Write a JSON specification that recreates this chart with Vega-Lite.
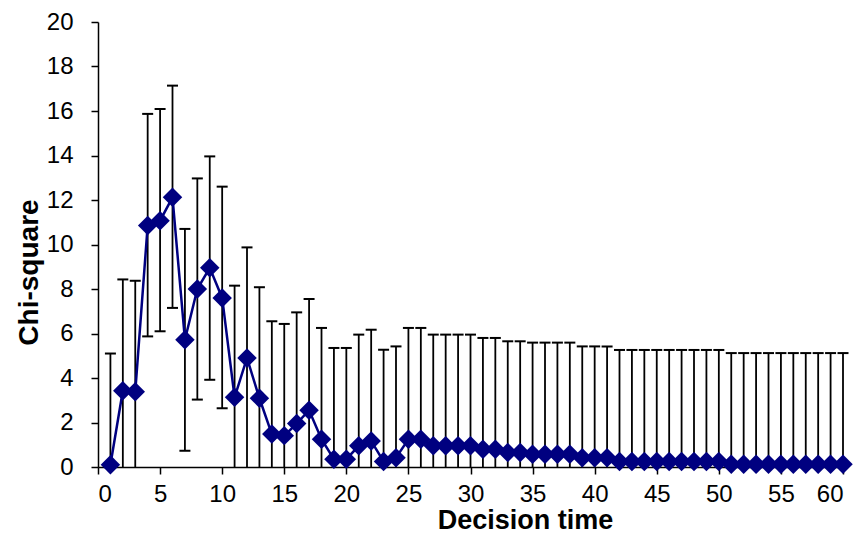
{
  "$schema": "https://vega.github.io/schema/vega-lite/v6.json",
  "width": 745,
  "height": 445,
  "autosize": {"type": "none"},
  "padding": {"left": 98, "top": 22, "right": 19, "bottom": 69},
  "background": "white",
  "config": {
    "font": "Liberation Sans",
    "view": {"stroke": null},
    "axis": {
      "grid": false,
      "domainColor": "black",
      "domainWidth": 1.5,
      "tickColor": "black",
      "tickWidth": 1.5,
      "tickSize": 7,
      "labelFontSize": 24,
      "labelColor": "black",
      "titleFontSize": 28,
      "titleFontWeight": "bold",
      "titleColor": "black"
    },
    "axisX": {
      "labelPadding": 8,
      "titleX": 427,
      "titleY": 61,
      "titleFontSize": 27,
      "titleAlign": "center",
      "titleBaseline": "alphabetic"
    },
    "axisY": {
      "labelPadding": 18,
      "titleX": -61,
      "titleY": 250,
      "titleAngle": -90,
      "titleAlign": "center",
      "titleBaseline": "alphabetic"
    }
  },
  "data": {
    "values": [
      {"t": 1, "y": 0.1, "lo": 0, "hi": 5.1},
      {"t": 2, "y": 3.43, "lo": 0, "hi": 8.43},
      {"t": 3, "y": 3.38, "lo": 0, "hi": 8.37},
      {"t": 4, "y": 10.85, "lo": 5.87, "hi": 15.87},
      {"t": 5, "y": 11.07, "lo": 6.1, "hi": 16.09},
      {"t": 6, "y": 12.12, "lo": 7.15, "hi": 17.14},
      {"t": 7, "y": 5.72, "lo": 0.73, "hi": 10.7},
      {"t": 8, "y": 8.0, "lo": 3.03, "hi": 12.97},
      {"t": 9, "y": 8.95, "lo": 3.92, "hi": 13.96},
      {"t": 10, "y": 7.6, "lo": 2.64, "hi": 12.6},
      {"t": 11, "y": 3.13, "lo": 0, "hi": 8.15},
      {"t": 12, "y": 4.9, "lo": 0, "hi": 9.87},
      {"t": 13, "y": 3.09, "lo": 0, "hi": 8.08},
      {"t": 14, "y": 1.48, "lo": 0, "hi": 6.55},
      {"t": 15, "y": 1.41, "lo": 0, "hi": 6.43},
      {"t": 16, "y": 1.95, "lo": 0, "hi": 6.95},
      {"t": 17, "y": 2.55, "lo": 0, "hi": 7.55},
      {"t": 18, "y": 1.25, "lo": 0, "hi": 6.25},
      {"t": 19, "y": 0.35, "lo": 0, "hi": 5.35},
      {"t": 20, "y": 0.35, "lo": 0, "hi": 5.35},
      {"t": 21, "y": 0.95, "lo": 0, "hi": 5.95},
      {"t": 22, "y": 1.17, "lo": 0, "hi": 6.17},
      {"t": 23, "y": 0.25, "lo": 0, "hi": 5.27},
      {"t": 24, "y": 0.42, "lo": 0, "hi": 5.42},
      {"t": 25, "y": 1.25, "lo": 0, "hi": 6.25},
      {"t": 26, "y": 1.25, "lo": 0, "hi": 6.25},
      {"t": 27, "y": 0.95, "lo": 0, "hi": 5.95},
      {"t": 28, "y": 0.95, "lo": 0, "hi": 5.95},
      {"t": 29, "y": 0.95, "lo": 0, "hi": 5.95},
      {"t": 30, "y": 0.95, "lo": 0, "hi": 5.95},
      {"t": 31, "y": 0.8, "lo": 0, "hi": 5.8},
      {"t": 32, "y": 0.8, "lo": 0, "hi": 5.8},
      {"t": 33, "y": 0.65, "lo": 0, "hi": 5.65},
      {"t": 34, "y": 0.65, "lo": 0, "hi": 5.65},
      {"t": 35, "y": 0.57, "lo": 0, "hi": 5.59},
      {"t": 36, "y": 0.57, "lo": 0, "hi": 5.59},
      {"t": 37, "y": 0.57, "lo": 0, "hi": 5.59},
      {"t": 38, "y": 0.57, "lo": 0, "hi": 5.59},
      {"t": 39, "y": 0.42, "lo": 0, "hi": 5.42},
      {"t": 40, "y": 0.42, "lo": 0, "hi": 5.42},
      {"t": 41, "y": 0.42, "lo": 0, "hi": 5.42},
      {"t": 42, "y": 0.25, "lo": 0, "hi": 5.26},
      {"t": 43, "y": 0.25, "lo": 0, "hi": 5.26},
      {"t": 44, "y": 0.25, "lo": 0, "hi": 5.26},
      {"t": 45, "y": 0.25, "lo": 0, "hi": 5.26},
      {"t": 46, "y": 0.25, "lo": 0, "hi": 5.26},
      {"t": 47, "y": 0.25, "lo": 0, "hi": 5.26},
      {"t": 48, "y": 0.25, "lo": 0, "hi": 5.26},
      {"t": 49, "y": 0.25, "lo": 0, "hi": 5.26},
      {"t": 50, "y": 0.25, "lo": 0, "hi": 5.26},
      {"t": 51, "y": 0.12, "lo": 0, "hi": 5.12},
      {"t": 52, "y": 0.12, "lo": 0, "hi": 5.12},
      {"t": 53, "y": 0.12, "lo": 0, "hi": 5.12},
      {"t": 54, "y": 0.12, "lo": 0, "hi": 5.12},
      {"t": 55, "y": 0.12, "lo": 0, "hi": 5.12},
      {"t": 56, "y": 0.12, "lo": 0, "hi": 5.12},
      {"t": 57, "y": 0.12, "lo": 0, "hi": 5.12},
      {"t": 58, "y": 0.12, "lo": 0, "hi": 5.12},
      {"t": 59, "y": 0.12, "lo": 0, "hi": 5.12},
      {"t": 60, "y": 0.12, "lo": 0, "hi": 5.12}
    ]
  },
  "encoding": {
    "x": {
      "field": "t",
      "type": "quantitative",
      "title": "Decision time",
      "scale": {"domain": [0, 60], "nice": false},
      "axis": {"values": [0, 5, 10, 15, 20, 25, 30, 35, 40, 45, 50, 55, 60]}
    }
  },
  "layer": [
    {
      "mark": {"type": "rule", "color": "black", "strokeWidth": 1.8},
      "encoding": {
        "y": {
          "field": "lo",
          "type": "quantitative",
          "title": "Chi-square",
          "scale": {"domain": [0, 20], "nice": false},
          "axis": {"values": [0, 2, 4, 6, 8, 10, 12, 14, 16, 18, 20]}
        },
        "y2": {"field": "hi"}
      }
    },
    {
      "mark": {"type": "tick", "orient": "horizontal", "color": "black", "size": 11, "thickness": 2, "opacity": 1},
      "encoding": {
        "y": {"field": "hi", "type": "quantitative", "title": "Chi-square"}
      }
    },
    {
      "transform": [{"filter": "datum.lo > 0"}],
      "mark": {"type": "tick", "orient": "horizontal", "color": "black", "size": 11, "thickness": 2, "opacity": 1},
      "encoding": {
        "y": {"field": "lo", "type": "quantitative", "title": "Chi-square"}
      }
    },
    {
      "mark": {"type": "line", "color": "#000080", "strokeWidth": 2.5},
      "encoding": {
        "y": {"field": "y", "type": "quantitative", "title": "Chi-square"}
      }
    },
    {
      "mark": {"type": "point", "shape": "diamond", "filled": true, "size": 380, "color": "#000080", "opacity": 1},
      "encoding": {
        "y": {"field": "y", "type": "quantitative", "title": "Chi-square"}
      }
    }
  ]
}
